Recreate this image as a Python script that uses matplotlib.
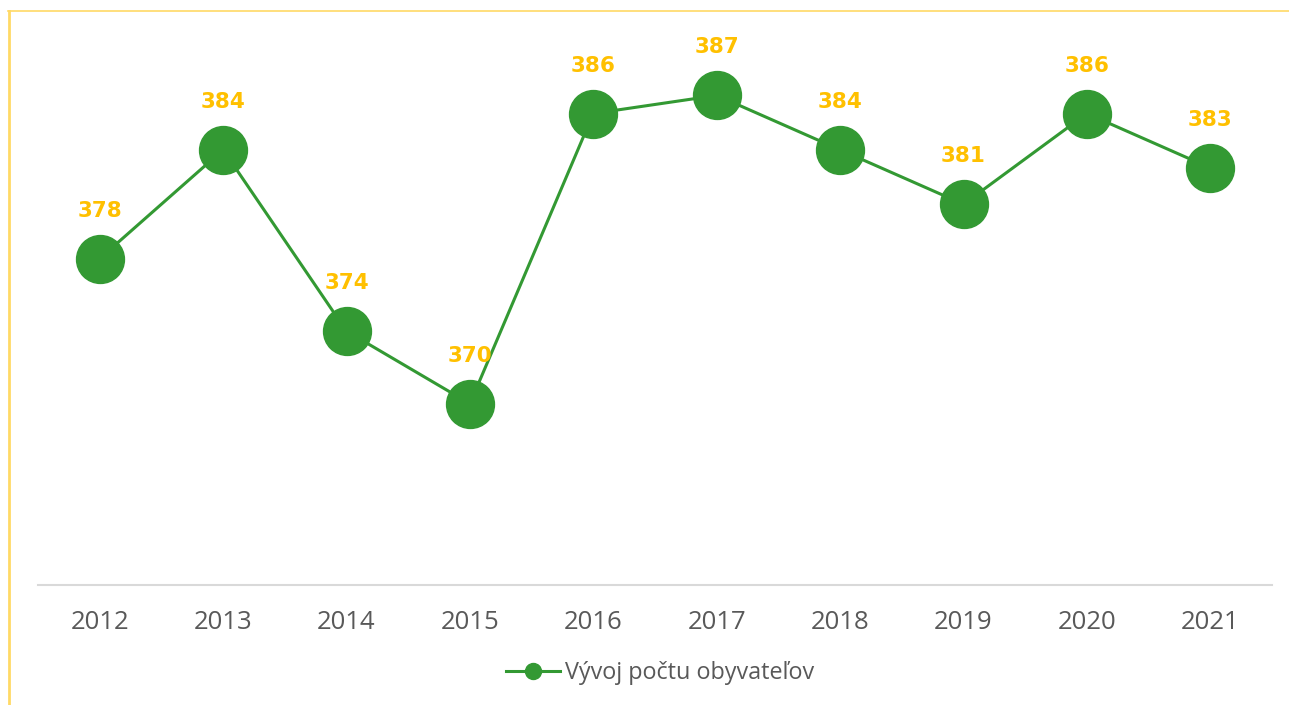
import matplotlib
matplotlib.use("Agg")
import matplotlib.pyplot as plt
from matplotlib.lines import Line2D

years = ["2012", "2013", "2014", "2015", "2016", "2017", "2018", "2019", "2020", "2021"]
values = [378, 384, 374, 370, 386, 387, 384, 381, 386, 383]
series_name = "Vývoj počtu obyvateľov"

W, H = 1289, 705
fig = plt.figure(figsize=(W / 100, H / 100), dpi=100)
fig.patch.set_facecolor("white")

# border lines (light yellow)
fig.add_artist(Line2D([9 / W, 9 / W], [0, 1 - 11 / H], transform=fig.transFigure,
                      color="#FFD966", lw=2.0))
fig.add_artist(Line2D([8 / W, 1], [1 - 11 / H, 1 - 11 / H], transform=fig.transFigure,
                      color="#FFD966", lw=1.2))

left, right = 38 / W, 1272 / W
bottom, top = (H - 585) / H, (H - 41) / H
ax = fig.add_axes([left, bottom, right - left, top - bottom])
ax.set_facecolor("none")

x = list(range(len(years)))
green = "#339933"
ax.plot(x, values, color=green, lw=2.2, marker="o", markersize=34.5,
        markerfacecolor=green, markeredgecolor=green, label=series_name, zorder=3)

for xi, v in zip(x, values):
    ax.annotate(str(v), (xi, v), xytext=(0, 34.5), textcoords="offset points",
                ha="center", va="center", color="#FFC000", fontsize=15.5,
                fontweight="bold", family="DejaVu Sans", zorder=4)

ax.set_xlim(-0.5, len(years) - 0.5)
ax.set_ylim(360, 390)
ax.set_yticks([])
ax.set_xticks(x)
ax.set_xticklabels(years, family="Open Sans", fontsize=18.5, color="#595959")
ax.tick_params(axis="x", length=0, pad=18)
for s in ["top", "right", "left"]:
    ax.spines[s].set_visible(False)
ax.spines["bottom"].set_color("#D9D9D9")
ax.spines["bottom"].set_linewidth(1.5)

handle = Line2D([0], [0], color=green, lw=2.2, marker="o", markersize=11.5,
                markerfacecolor=green, markeredgecolor=green)
leg = fig.legend([handle], [series_name], loc="center", bbox_to_anchor=(660 / W, 1 - 673 / H),
                 frameon=False, handlelength=2.3, handletextpad=0.22,
                 prop={"family": "Open Sans", "size": 16.8})
for t in leg.get_texts():
    t.set_color("#595959")

fig.savefig("out.png", dpi=100, facecolor="white")
